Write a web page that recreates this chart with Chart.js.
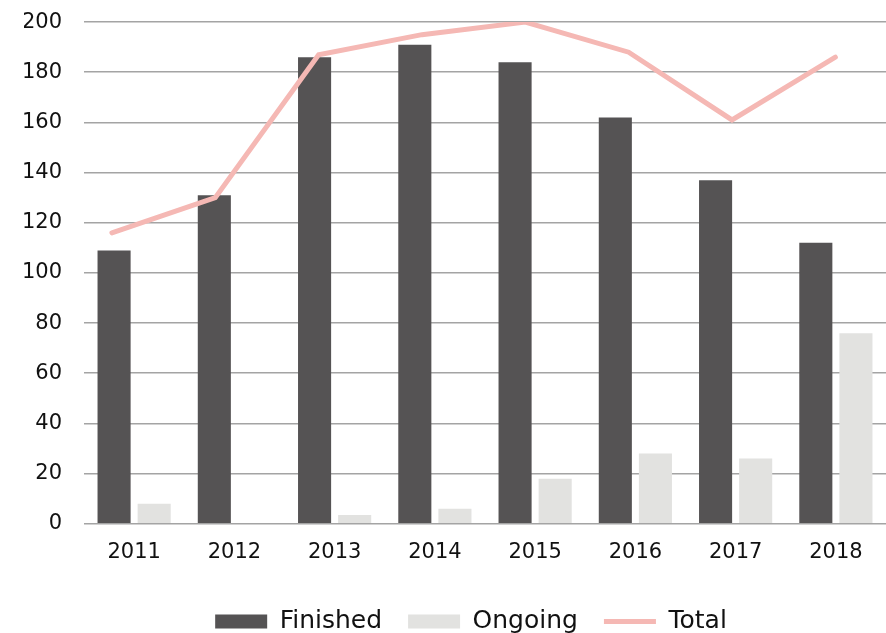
<!DOCTYPE html>
<html>
<head>
<meta charset="utf-8">
<script src="https://cdn.jsdelivr.net/npm/chart.js@4/dist/chart.umd.min.js"></script>
<style>
  html, body { margin: 0; padding: 0; background: #fff; }
  #wrap { width: 886px; height: 633px; }
</style>
</head>
<body>
<div id="wrap"><canvas id="chart"></canvas></div>
<script>
// данные с графика
const years = ['2011', '2012', '2013', '2014', '2015', '2016', '2017', '2018'];
const finished = [109, 131, 186, 191, 184, 162, 137, 112];
const ongoing = [8, 0, 3.5, 6, 18, 28, 26, 76];
const total = [116, 130, 187, 195, 200, 188, 161, 186];
const legendOrder = ['Finished', 'Ongoing', 'Total'];

const FONT = '"DejaVu Sans", sans-serif';

// линия в оригинале сдвинута относительно категорий, поэтому у неё своя ось x
const lineData = total.map((v, i) => ({ x: i, y: v }));

// легенда в оригинале чуть правее центра и ниже
const legendShift = {
    id: 'legendShift',
    afterLayout(chart) {
        const lg = chart.legend;
        if (!lg) return;
        lg.left += 16; lg.right += 16;
        lg.top += 10; lg.bottom += 10;
    }
};

const ctx = document.getElementById('chart').getContext('2d');
new Chart(ctx, {
    type: 'bar',
    data: {
        labels: years,
        datasets: [
            {
                type: 'line',
                label: 'Total',
                data: lineData,
                xAxisID: 'xLine',
                borderColor: '#f5b8b4',
                backgroundColor: '#f5b8b4',
                borderWidth: 5,
                borderCapStyle: 'round',
                borderJoinStyle: 'miter',
                pointRadius: 0,
                pointStyle: 'line',
                tension: 0,
                order: 1
            },
            {
                label: 'Finished',
                data: finished,
                backgroundColor: '#555354',
                borderWidth: 0,
                pointStyle: 'rect',
                barPercentage: 0.825,
                categoryPercentage: 1.6,
                order: 2
            },
            {
                label: 'Ongoing',
                data: ongoing,
                backgroundColor: '#e2e2e0',
                borderWidth: 0,
                pointStyle: 'rect',
                barPercentage: 0.825,
                categoryPercentage: 1.6,
                order: 2
            }
        ]
    },
    options: {
        responsive: true,
        maintainAspectRatio: false,
        animation: false,
        layout: { padding: { top: 0, left: 24, right: 0, bottom: -1 } },
        scales: {
            x: {
                grid: { display: false },
                border: { display: false },
                ticks: { color: '#111', font: { family: FONT, size: 21 }, padding: 8 }
            },
            xLine: {
                type: 'linear',
                display: false,
                offset: false,
                bounds: 'data',
                min: -0.27,
                max: 7.49
            },
            y: {
                min: 0,
                max: 200,
                afterFit: (scale) => { scale.width = 60; },
                ticks: { stepSize: 20, color: '#111', font: { family: FONT, size: 21, lineHeight: 0.01 }, padding: 22 },
                grid: { color: '#a4a4a4', lineWidth: 1.6, drawTicks: false },
                border: { display: false }
            }
        },
        plugins: {
            tooltip: { enabled: false },
            legend: {
                position: 'bottom',
                labels: {
                    usePointStyle: true,
                    pointStyleWidth: 52,
                    boxHeight: 14,
                    padding: 26,
                    color: '#111',
                    font: { family: FONT, size: 25 },
                    sort: (a, b) => legendOrder.indexOf(a.text) - legendOrder.indexOf(b.text)
                }
            }
        }
    },
    plugins: [legendShift]
});
</script>
</body>
</html>
